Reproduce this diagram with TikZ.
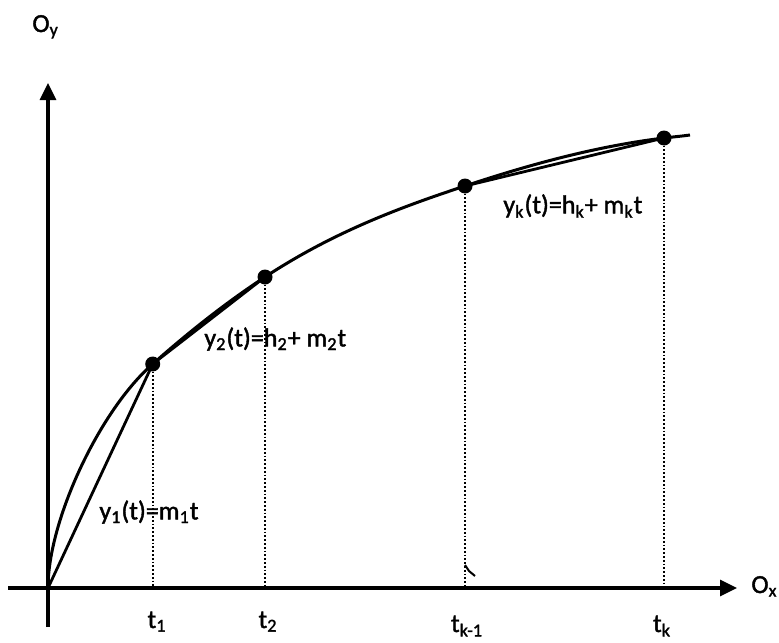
\documentclass[tikz,border=0pt]{standalone}
\usepackage{fontspec}
\setmainfont{Carlito}[RawFeature={embolden=1.5}]
\usetikzlibrary{arrows.meta}
\newcommand{\lo}[1]{\textsubscript{#1}}
\tikzset{
  axis/.style={-{Triangle[length=8.5pt,width=8pt]}, line width=1.6pt},
  curveline/.style={line width=1.5pt, line join=round},
  chord/.style={line width=1.4pt},
  guide/.style={densely dotted, line width=0.9pt},
  knot/.style={circle, fill=black, minimum size=7.5pt, inner sep=0pt},
  eqn/.style={anchor=west, inner sep=0pt, font=\fontsize{13}{15}\selectfont},
  axlabel/.style={anchor=base west, inner sep=0pt, font=\fontsize{13}{15}\selectfont},
  tlabel/.style={anchor=base, inner sep=0pt, font=\fontsize{13}{15}\selectfont}
}

\begin{document}
\begin{tikzpicture}[x=0.5pt, y=-0.5pt]
  \useasboundingbox (0,0) rectangle (779,642);
  % axes
  \coordinate (o) at (48,588);
  \coordinate (xl) at (8,588);
  \coordinate (xr) at (737,588);
  \coordinate (yb) at (48,627);
  \coordinate (yt) at (48,83);
  \draw[axis] (xl) -- (xr);
  \draw[axis] (yb) -- (yt);
  \node[axlabel] (oy) at (32,32) {O\lo{y}};
  \node[axlabel] (ox) at (751,593) {O\lo{x}};

  % points on the curve
  \node[knot] (p1) at (152.7,364) {};
  \node[knot] (p2) at (265,277) {};
  \node[knot] (pk1) at (465,186) {};
  \node[knot] (pk) at (664,138) {};

  % the curve
  \draw[curveline] (o) .. controls (48,520) and (100,410) .. (p1.center)
    .. controls (190,331) and (227,302) .. (p2.center)
    .. controls (332,233) and (398,208) .. (pk1.center)
    .. controls (531,164) and (598,146) .. (pk.center)
    .. controls (677,136.5) and (683,136) .. (690,135);

  % chords
  \draw[chord] (o) -- (p1.center);
  \draw[chord] (p1.center) -- (p2.center);
  \draw[chord] (pk1.center) -- (pk.center);

  % guides down to the axis
  \draw[guide] (p1.center) -- (p1 |- o);
  \draw[guide] (p2.center) -- (p2 |- o);
  \draw[guide] (pk1.center) -- (pk1 |- o);
  \draw[guide] (pk.center) -- (pk |- o);
  \draw[line width=1pt] (465,565) -- (469,571) -- (475,576);

  % labels
  \node[eqn] (eq1) at (99,512) {y\lo{1}(t)=m\lo{1}t};
  \node[eqn] (eq2) at (204,339) {y\lo{2}(t)=h\lo{2}+ m\lo{2}t};
  \node[eqn] (eqk) at (503,206) {y\lo{k}(t)=h\lo{k}+ m\lo{k}t};
  \node[tlabel] (t1) at (157,628) {t\lo{1}};
  \node[tlabel] (t2) at (268,628) {t\lo{2}};
  \node[tlabel] (tk1) at (467,632) {t\lo{k-1}};
  \node[tlabel] (tk) at (662,632) {t\lo{k}};
\end{tikzpicture}
\end{document}
